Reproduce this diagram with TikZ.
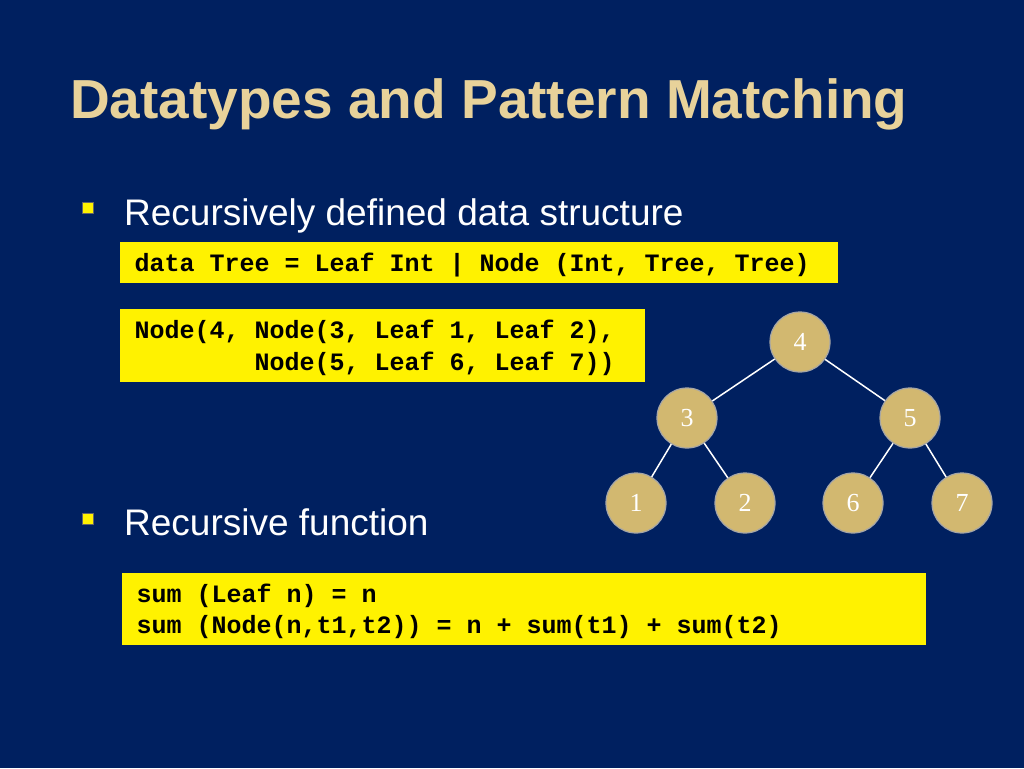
\documentclass[tikz,border=0pt]{standalone}
\usepackage{fontspec}
\setmainfont{Liberation Sans}
\newfontfamily\codefont{Liberation Mono}
\newfontfamily\numfont{Liberation Serif}
\definecolor{navy}{RGB}{0,32,96}
\definecolor{tan}{RGB}{232,210,154}
\definecolor{knot}{RGB}{210,184,112}
\begin{document}
\begin{tikzpicture}[x=1pt,y=-1pt]
  \tikzstyle{puce}=[fill=yellow,draw=black!60,minimum size=11pt,inner sep=0pt]
  \tikzstyle{code}=[fill=yellow,anchor=north west,inner sep=0pt]
  \tikzstyle{ligne}=[font=\codefont\bfseries\fontsize{25}{31}\selectfont,anchor=base west]
  \tikzstyle{noeud}=[circle,fill=knot,draw=gray!70,line width=1.2pt,minimum size=60pt,
                     font=\numfont\fontsize{26}{30}\selectfont,text=white]
  \fill[navy] (0,0) rectangle (1024,768);
  \node[anchor=base west,text=tan,font=\bfseries\fontsize{55}{60}\selectfont,inner sep=0pt] (titre) at (70,118) {Datatypes and Pattern Matching};
  % puces
  \node[puce] (p1) at (88,208) {};
  \node[anchor=base west,text=white,font=\fontsize{37}{40}\selectfont,inner sep=0pt] (t1) at (124,225) {Recursively defined data structure};
  \node[puce] (p2) at (88,519) {};
  \node[anchor=base west,text=white,font=\fontsize{37}{40}\selectfont,inner sep=0pt] (t2) at (124,535) {Recursive function};
  % boites de code
  \fill[yellow] (120,242) rectangle (838,283);
  \node[ligne] (c1) at (131,271) {data Tree = Leaf Int | Node (Int, Tree, Tree)};
  \fill[yellow] (120,309) rectangle (645,382);
  \node[ligne] (c2) at (131,338) {Node(4, Node(3, Leaf 1, Leaf 2),};
  \node[ligne] (c3) at (131,370) {\phantom{Node(4, }Node(5, Leaf 6, Leaf 7))};
  \fill[yellow] (122,573) rectangle (926,645);
  \node[ligne] (c4) at (133,602) {sum (Leaf n) = n};
  \node[ligne] (c5) at (133,633) {sum (Node(n,t1,t2)) = n + sum(t1) + sum(t2)};
  % arbre
  \draw[white,line width=1.5pt] (800,342) -- (687,418) -- (636,503);
  \draw[white,line width=1.5pt] (687,418) -- (745,503);
  \draw[white,line width=1.5pt] (800,342) -- (910,418) -- (853,503);
  \draw[white,line width=1.5pt] (910,418) -- (962,503);
  \node[noeud] (4) at (800,342) {4};
  \node[noeud] (3) at (687,418) {3};
  \node[noeud] (5) at (910,418) {5};
  \node[noeud] (1) at (636,503) {1};
  \node[noeud] (2) at (745,503) {2};
  \node[noeud] (6) at (853,503) {6};
  \node[noeud] (7) at (962,503) {7};
\end{tikzpicture}
\end{document}
